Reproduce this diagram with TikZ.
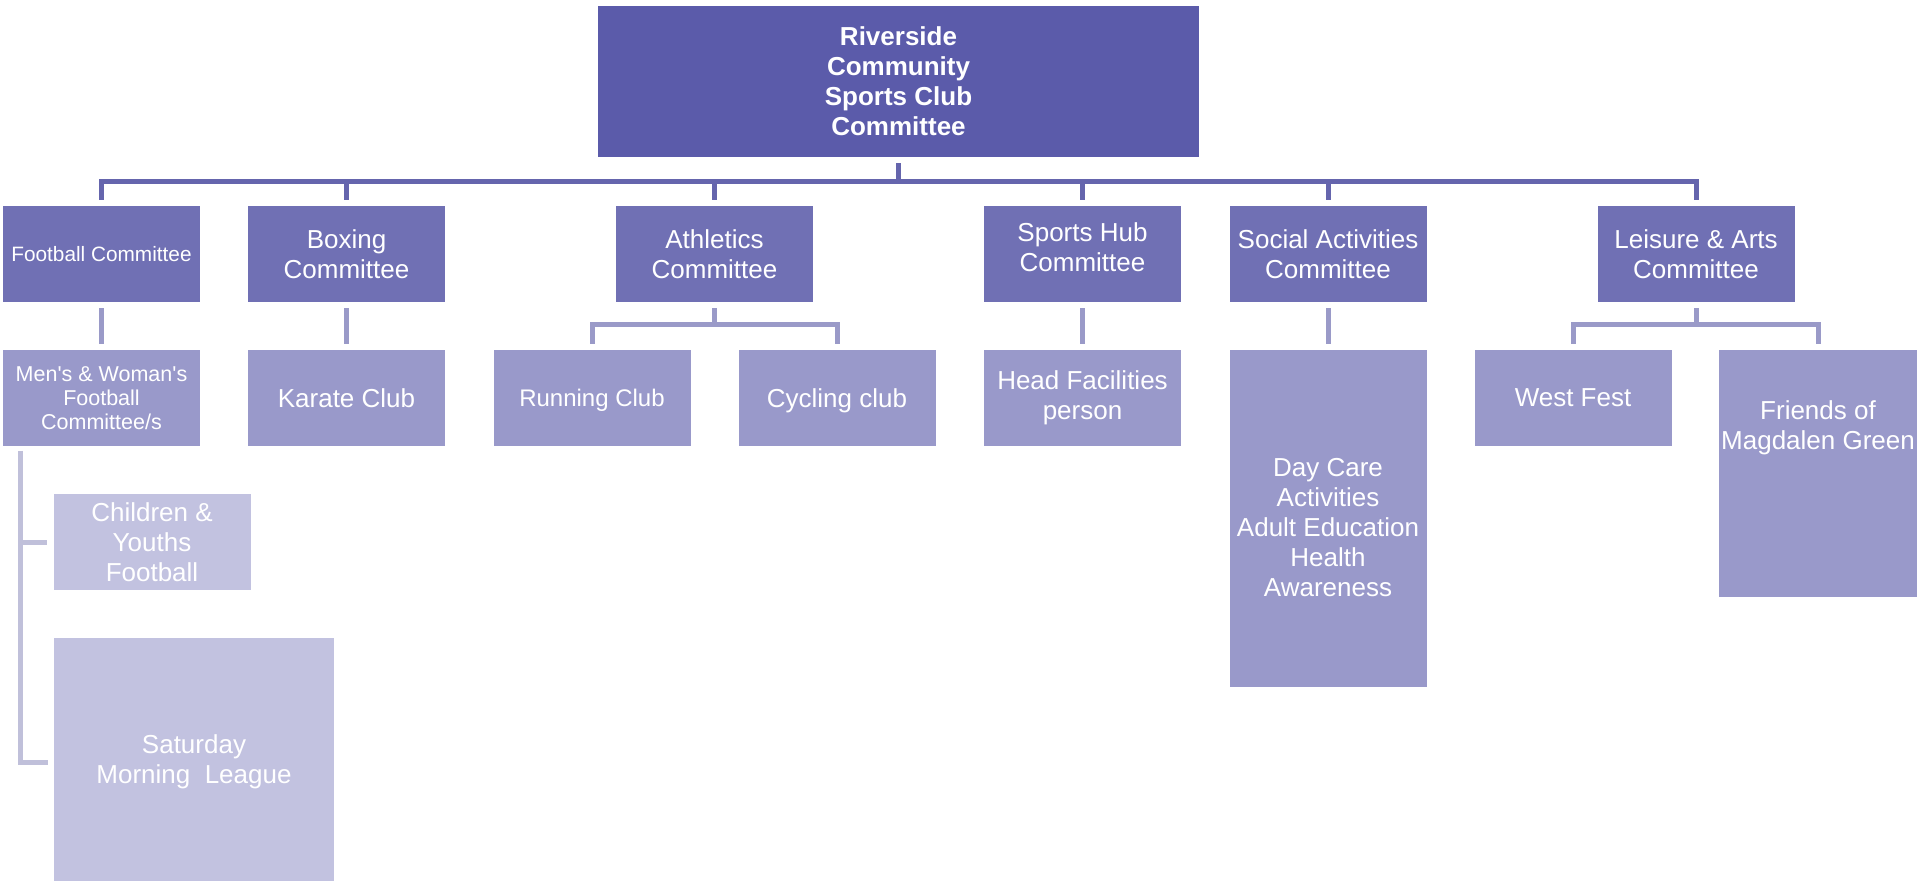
\documentclass[tikz,border=0pt]{standalone}
\usepackage{fontspec}
\setmainfont{Liberation Sans}
\usepackage{xcolor}
\usepackage{tikz}

\definecolor{topblue}{HTML}{5B5BAA}
\definecolor{midblue}{HTML}{7070B4}
\definecolor{lowblue}{HTML}{9999CA}
\definecolor{paleblue}{HTML}{C2C2E0}
\definecolor{busblue}{HTML}{6565AD}
\definecolor{subblue}{HTML}{9A9AC8}
\definecolor{brkblue}{HTML}{C0C0DA}

\tikzset{
	box/.style={rectangle, text=white, align=center, inner sep=0pt,
		minimum width=98.5pt, minimum height=48pt,
		font=\fontsize{13}{15}\selectfont},
	headbox/.style={box, fill=topblue, minimum width=300.5pt, minimum height=75.5pt,
		font=\bfseries\fontsize{13}{15}\selectfont},
	cmtbox/.style={box, fill=midblue},
	clubbox/.style={box, fill=lowblue},
	youthbox/.style={box, fill=paleblue},
	link/.style={line width=2.5pt, shorten <=3pt, shorten >=3pt},
}

\begin{document}
\begin{tikzpicture}[x=0.5pt, y=-0.5pt]
		\useasboundingbox (0,0) rectangle (1920,881);
		
		% top
		\node[headbox] (club) at (898.5,81.5) {Riverside\\Community\\Sports Club\\Committee};
		
		% committees
		\node[cmtbox, font=\fontsize{10.4}{12}\selectfont] (football) at (101.5,254) {Football Committee};
		\node[cmtbox] (boxing) at (346.5,254) {Boxing\\Committee};
		\node[cmtbox] (athletics) at (714.5,254) {Athletics\\Committee};
		\node[cmtbox] (hub) at (1082.5,254) {Sports Hub\\Committee\rule[-7pt]{0pt}{0pt}};
		\node[cmtbox] (social) at (1328,254) {Social Activities\\Committee};
		\node[cmtbox] (leisure) at (1696,254) {Leisure \& Arts\\Committee};
		
		% clubs
		\node[clubbox, font=\fontsize{10.75}{12}\selectfont] (mens) at (101.5,398) {Men\textquotesingle s \& Woman\textquotesingle s\\Football\\Committee/s};
		\node[clubbox] (karate) at (346.5,398) {Karate Club};
		\node[clubbox, text depth=0pt, font=\fontsize{12}{15}\selectfont] (running) at (592,398) {Running Club};
		\node[clubbox, text depth=0pt] (cycling) at (837,398) {Cycling club};
		\node[clubbox] (facilities) at (1082.5,398) {Head Facilities\\person};
		\node[clubbox, minimum height=168.5pt] (daycare) at (1328,518.5) {\rule{0pt}{18.5pt}Day Care\\Activities\\Adult Education\\Health\\Awareness};
		\node[clubbox] (westfest) at (1573,398) {West Fest};
		\node[clubbox, minimum width=99pt, minimum height=123.5pt] (friends) at (1818,473.5) {Friends of\\Magdalen Green\\[33pt]\mbox{}};
		
		% football sections
		\node[youthbox] (kids) at (152,542) {Children \&\\Youths\\Football};
		\node[youthbox, minimum width=140pt, minimum height=124pt] (saturday) at (194,762) {Saturday\\Morning\ \ League};
		
		\coordinate (bus) at (0,182);
		\coordinate (fork) at (0,325);
		\coordinate (brk) at (20,451);
		
		\foreach \c in {football,boxing,athletics,hub,social,leisure}
			\draw[link, busblue] (club.south) -- (club.south |- bus) -| (\c.north);
		
		\draw[link, subblue] (football) -- (mens);
		\draw[link, subblue] (boxing) -- (karate);
		\draw[link, subblue] (hub) -- (facilities);
		\draw[link, subblue] (social) -- (daycare.north);
		\foreach \c in {running,cycling}
			\draw[link, subblue] (athletics.south) -- (athletics.south |- fork) -| (\c.north);
		\foreach \c in {westfest,friends}
			\draw[link, subblue] (leisure.south) -- (leisure.south |- fork) -| (\c.north);
		
		\foreach \c in {kids,saturday}
			\draw[link, brkblue, shorten <=0pt] (brk) |- (\c.west);
	\end{tikzpicture}
\end{document}
